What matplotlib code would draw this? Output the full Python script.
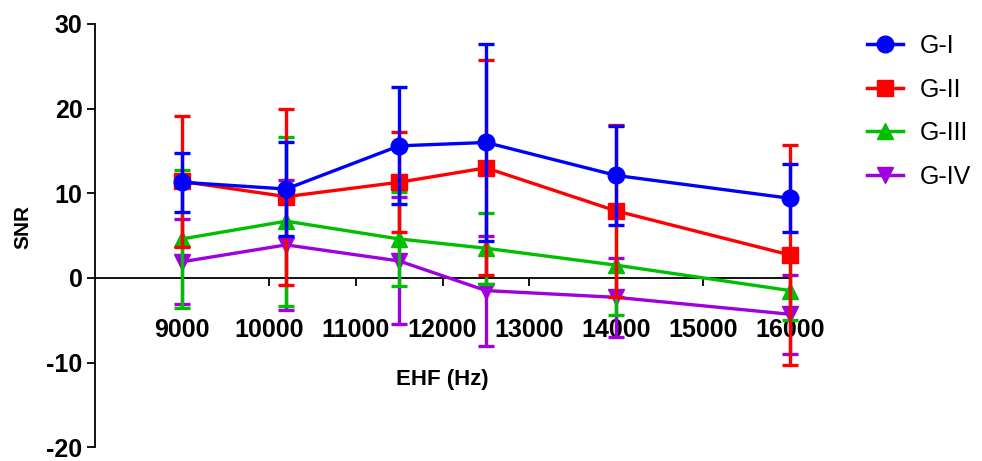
import numpy as np
import matplotlib.pyplot as plt
from matplotlib.lines import Line2D

freqs = [9000, 10200, 11500, 12500, 14000, 16000]

g1_mean = [11.3, 10.5, 15.6, 16.0, 12.1, 9.4]
g1_err = [3.5, 5.6, 6.9, 11.6, 5.8, 4.0]
g2_mean = [11.4, 9.6, 11.3, 13.0, 7.9, 2.7]
g2_err = [7.7, 10.4, 5.9, 12.7, 10.2, 13.0]
g3_mean = [4.6, 6.7, 4.6, 3.5, 1.5, -1.5]
g3_err = [8.2, 10.0, 5.5, 4.2, 5.9, 3.5]
g4_mean = [1.9, 3.9, 2.0, -1.5, -2.3, -4.3]
g4_err = [5.0, 7.7, 7.5, 6.5, 4.7, 4.7]

labels = ["G-I", "G-II", "G-III", "G-IV"]
means = [g1_mean, g2_mean, g3_mean, g4_mean]
errs = [g1_err, g2_err, g3_err, g4_err]
colors = ["#0000FF", "#FF0000", "#00BE00", "#A000E0"]
markers = ["o", "s", "^", "v"]

plt.rcParams["font.family"] = ["Liberation Sans", "DejaVu Sans"]
plt.rcParams["axes.unicode_minus"] = False

fig = plt.figure(figsize=(9.82, 4.61), dpi=100)
ax = fig.add_axes([0.0967, 0.03, 0.708, 0.918])

# first group on top, so draw in reverse
for i in reversed(range(4)):
    ax.errorbar(freqs, means[i], yerr=errs[i], color=colors[i], marker=markers[i],
                markersize=12, linewidth=2.4, elinewidth=2.4, capsize=6, capthick=2.4,
                clip_on=False, zorder=3 + (4 - i))

ax.set_xlim(8000, 16000)
ax.set_ylim(-20, 30)
ax.set_xticks([9000, 10000, 11000, 12000, 13000, 14000, 15000, 16000])
ax.set_yticks([-20, -10, 0, 10, 20, 30])

ax.spines["top"].set_visible(False)
ax.spines["right"].set_visible(False)
ax.spines["bottom"].set_position(("data", 0))
for s in ("left", "bottom"):
    ax.spines[s].set_linewidth(1.3)

ax.tick_params(axis="x", direction="out", length=6, width=1.3, pad=23)
ax.tick_params(axis="y", direction="out", length=6, width=1.3, pad=3)
for lab in ax.get_xticklabels() + ax.get_yticklabels():
    lab.set_fontsize(18)
    lab.set_fontweight("bold")

ax.set_ylabel("SNR", fontsize=15, fontweight="bold")
ax.yaxis.set_label_coords(-0.09, 0.52)
ax.set_xlabel("EHF (Hz)", fontsize=16, fontweight="bold")
ax.xaxis.set_label_coords(0.5, 0.185)

handles = [Line2D([], [], color=colors[i], marker=markers[i], markersize=12, linewidth=2.5)
           for i in range(4)]
fig.legend(handles, labels, loc="upper left", bbox_to_anchor=(0.86, 0.975),
           frameon=False, fontsize=18, handlelength=1.45, handletextpad=0.65,
           labelspacing=0.78)

fig.savefig("out.png", dpi=100)
